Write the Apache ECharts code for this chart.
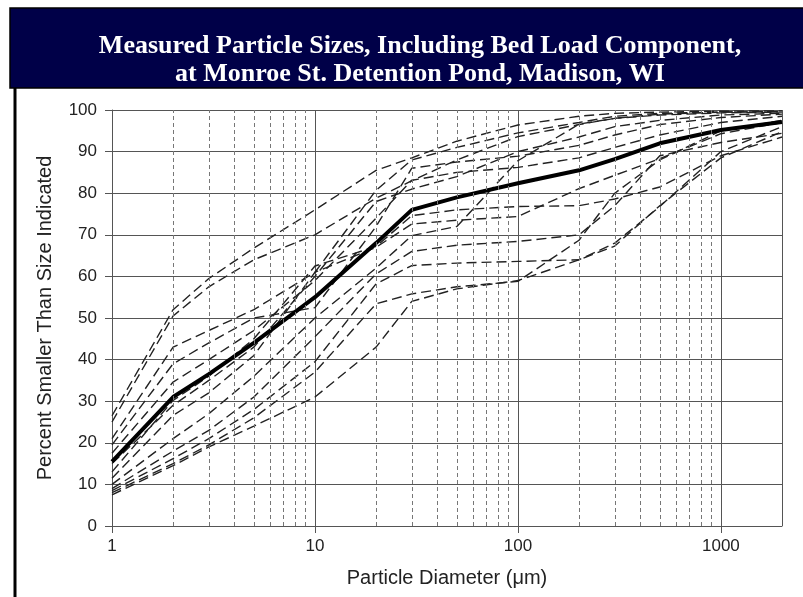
<!DOCTYPE html>
<html>
<head>
<meta charset="utf-8">
<script src="https://cdn.jsdelivr.net/npm/echarts@6/dist/echarts.min.js"></script>
<style>
  html, body { margin: 0; padding: 0; background: #fff; }
  #chart { width: 803px; height: 597px; }
</style>
</head>
<body>
<div id="chart"></div>
<script>
// particle sizes (um) at which every curve is read
const sizes = [1, 2, 3, 5, 10, 20, 30, 50, 100, 200, 300, 500, 1000, 2000];

// thick curve (median)
const median = [15.5, 31, 36.5, 44, 55, 68, 76, 79, 82.4, 85.5, 88.2, 92, 95.2, 97.1];

// individual samples (dashed)
const sample1 = [26.5, 52, 59.5, 66.8, 76, 85.5, 88.5, 92.5, 96.4, 98.5, 99.2, 99.5, 99.7, 99.8];
const sample2 = [25, 50.5, 57.5, 64, 70, 78.8, 83, 88, 93.6, 96.5, 98, 99, 99.5, 99.6];
const sample3 = [21, 43, 47, 52, 61, 80.7, 88, 91, 94.5, 97, 98.5, 99.2, 99.5, 99.6];
const sample4 = [19.5, 39, 44, 50, 52.5, 72, 86, 87.5, 88.9, 91.5, 94, 96.5, 98.2, 99];
const sample5 = [17.5, 34.6, 40, 47, 59, 74, 83.1, 85, 86.2, 88.5, 91, 94, 97, 98.5];
const sample6 = [15, 29, 35, 43, 60, 78, 81, 84, 90, 93.5, 96, 97.5, 98.8, 99.2];
const sample7 = [13, 30.2, 36, 45, 62.5, 67.2, 74.6, 76, 76.8, 77, 78.6, 81.5, 89, 93.5];
const sample8 = [11.5, 26.6, 32, 41, 61, 67, 72.6, 73.5, 74.4, 81.1, 84.3, 88.3, 94.3, 97];
const sample9 = [10, 21, 27, 36, 50, 62, 69.8, 72, 87.8, 96.6, 98, 98.8, 99.3, 99.5];
const sample10 = [9, 18, 23, 31, 45.5, 60.6, 66, 67.5, 68.4, 70, 77, 89, 92.2, 94.4];
const sample11 = [8.5, 16.2, 21, 28, 39.5, 58.2, 62.6, 63.2, 63.6, 64, 68, 76.8, 90, 96];
const sample12 = [8, 15, 19.5, 26, 37, 53.4, 55.8, 57.5, 58.8, 68.7, 80, 88, 95, 97.5];
const sample13 = [7.5, 14.5, 19, 24, 31, 43, 54, 57, 59, 64, 67.3, 77, 88.5, 94.8];

const samples = [sample1, sample2, sample3, sample4, sample5, sample6, sample7,
  sample8, sample9, sample10, sample11, sample12, sample13];

// dashed minor gridlines between the decades
const minorTicks = [2, 3, 4, 5, 6, 7, 8, 9, 20, 30, 40, 50, 60, 70, 80, 90,
  200, 300, 400, 500, 600, 700, 800, 900];

const titleText = "Measured Particle Sizes, Including Bed Load Component,\nat Monroe St. Detention Pond, Madison, WI";

const toPairs = (vals) => sizes.map((s, i) => [s, vals[i]]);

const chart = echarts.init(document.getElementById("chart"), null, { renderer: "canvas" });

const dashedSeries = samples.map((vals, i) => ({
  name: "sample " + (i + 1),
  type: "line",
  data: toPairs(vals),
  symbol: "none",
  z: 3,
  lineStyle: { color: "#222", width: 1.4, type: [10, 5] },
}));

chart.setOption({
  backgroundColor: "#fff",
  animation: false,
  graphic: [
    {
      type: "rect",
      shape: { x: 10, y: 8, width: 800, height: 80 },
      style: { fill: "#000048", stroke: "#000", lineWidth: 1.5 },
      z: 0,
    },
    {
      type: "rect",
      shape: { x: 13.5, y: 88, width: 3, height: 520 },
      style: { fill: "#000" },
      z: 0,
    },
  ],
  title: {
    text: titleText,
    left: 415,
    top: 27,
    textAlign: "center",
    textStyle: {
      color: "#fff",
      fontFamily: "Liberation Serif",
      fontWeight: "bold",
      fontSize: 26,
      lineHeight: 28,
    },
  },
  grid: { left: 112, right: 21, top: 110, bottom: 71 },
  xAxis: {
    type: "log",
    logBase: 10,
    min: 1,
    max: 2000,
    name: "Particle Diameter (μm)",
    nameLocation: "middle",
    nameGap: 42,
    nameTextStyle: { fontFamily: "Liberation Sans", fontSize: 20, color: "#222" },
    axisLine: { show: true, onZero: false, lineStyle: { color: "#555", width: 1 } },
    axisTick: { show: true, length: 7, lineStyle: { color: "#555" } },
    axisLabel: {
      fontFamily: "Liberation Sans",
      fontSize: 17,
      color: "#222",
      margin: 12,
      showMaxLabel: false,
      formatter: (v) => ([1, 10, 100, 1000].includes(Math.round(v)) ? String(Math.round(v)) : ""),
    },
    splitLine: { show: true, lineStyle: { color: "#555", width: 1 } },
  },
  yAxis: {
    type: "value",
    min: 0,
    max: 100,
    interval: 10,
    name: "Percent Smaller Than Size Indicated",
    nameLocation: "middle",
    nameGap: 57,
    nameTextStyle: { fontFamily: "Liberation Sans", fontSize: 20, color: "#222" },
    axisLine: { show: true, lineStyle: { color: "#555", width: 1 } },
    axisTick: { show: true, length: 7, lineStyle: { color: "#555" } },
    axisLabel: { fontFamily: "Liberation Sans", fontSize: 17, color: "#222", margin: 15 },
    splitLine: { show: true, lineStyle: { color: "#555", width: 1 } },
  },
  series: [
    {
      name: "minor grid",
      type: "line",
      data: [],
      z: 1,
      silent: true,
      markLine: {
        silent: true,
        symbol: ["none", "none"],
        label: { show: false },
        lineStyle: { color: "#777", width: 1, type: [4, 3] },
        data: minorTicks.map((v) => ({ xAxis: v })),
      },
    },
    ...dashedSeries,
    {
      name: "median",
      type: "line",
      data: toPairs(median),
      symbol: "none",
      z: 4,
      lineStyle: { color: "#000", width: 4, join: "round" },
    },
  ],
});
</script>
</body>
</html>
